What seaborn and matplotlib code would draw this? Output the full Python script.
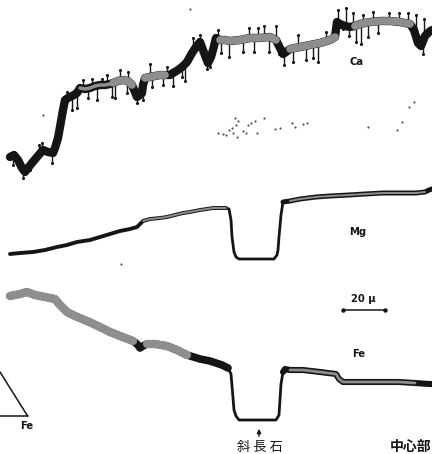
import matplotlib
matplotlib.use("Agg")
import matplotlib.pyplot as plt
import seaborn as sns
import pandas as pd
import numpy as np

sns.set_theme(style="white")
plt.rcParams['font.family'] = ['DejaVu Sans', 'Noto Sans CJK JP']

# ---------------- data (x = position, y = signal in plot units) -------------
ca_x = [10, 14, 18, 22, 25, 28, 32, 37, 43, 48, 53, 55, 58, 60, 63, 65, 68, 70, 74, 77, 80, 85, 90, 95,
        100, 105, 110, 113, 118, 123, 128, 132, 135, 137, 140, 142, 143, 145, 150, 155, 160, 165, 170,
        173, 178, 182, 187, 192, 196, 200, 203, 206, 208, 211, 213, 216, 220, 225, 230, 240, 250, 260,
        270, 276, 280, 283, 286, 290, 300, 310, 320, 330, 335, 337, 340, 345, 350, 355, 360, 365, 370,
        380, 390, 400, 410, 414, 418, 421, 425, 429, 432]
ca_y = [157, 155, 160, 168, 172, 168, 163, 157, 150, 152, 153, 148, 138, 127, 110, 100, 98, 97, 95, 93,
        88, 89, 88, 86, 85, 85, 84, 83, 81, 80, 81, 85, 92, 97, 95, 93, 85, 78, 77, 76, 75, 75, 75,
        73, 70, 67, 62, 53, 47, 42, 50, 58, 63, 57, 50, 38, 40, 40, 41, 40, 38, 38,
        37, 40, 48, 54, 52, 49, 47, 45, 43, 40, 37, 22, 24, 26, 27, 26, 24, 23, 22,
        21, 21, 22, 24, 30, 43, 46, 36, 32, 30]

# noise spikes on the Ca trace: position and tip
ca_spike_x = [13, 23, 30, 39, 42, 52, 67, 72, 77, 83, 88, 92, 97, 102, 107, 112, 115, 120, 127, 128,
              137, 143, 150, 152, 163, 167, 173, 182, 185, 193, 200, 207, 210,
              218, 221, 229, 243, 249, 254, 258, 264, 269, 276, 279, 284, 293, 298, 306, 313, 318,
              326, 338, 343, 346, 349, 353, 356, 361, 363, 368, 373, 378, 389, 399, 408, 416, 423, 424]
ca_spike_y = [165, 178, 170, 145, 143, 163, 92, 110, 108, 80, 98, 79, 100, 79, 75, 97, 98, 70, 93, 72,
              103, 100, 64, 87, 85, 67, 86, 77, 81, 38, 35, 69, 67,
              30, 53, 57, 52, 28, 52, 28, 26, 52, 26, 54, 65, 62, 35, 60, 58, 62,
              32, 10, 29, 8, 36, 13, 42, 44, 15, 37, 12, 33, 13, 13, 13, 15, 54, 19]

mg_x = [10, 20, 33, 45, 57, 67, 77, 90, 100, 110, 120, 130, 137, 143, 150, 160, 167, 175, 183, 190,
        200, 207, 213, 220, 226, 229, 231, 232, 234, 236, 239, 250, 260, 270, 274, 277, 278, 279,
        281, 283, 290, 300, 316, 330, 349, 365, 383, 400, 416, 425, 429, 432]
mg_y = [254, 253, 252, 250, 247, 245, 242, 240, 237, 234, 231, 229, 227, 221, 219, 218, 217, 215, 213, 212,
        210, 209, 208, 208, 208, 209, 220, 237, 252, 257, 259, 259, 259, 259, 259, 255, 250, 237,
        215, 202, 201, 199, 197, 196, 195, 194, 193, 193, 193, 192, 190, 189]

fe_x = [10, 20, 27, 35, 45, 55, 60, 67, 75, 87, 100, 110, 120, 133, 137, 140, 143, 147, 155, 167, 177,
        187, 200, 210, 216, 222, 228, 231, 234, 236, 239, 250, 260, 270, 276, 279, 281, 283, 285,
        290, 303, 320, 336, 339, 343, 346, 366, 383, 399, 415, 429, 432]
fe_y = [296, 294, 292, 295, 297, 299, 305, 312, 316, 321, 327, 332, 336, 341, 344, 348, 346, 344, 344, 346, 350,
        355, 359, 361, 363, 365, 368, 374, 410, 416, 420, 420, 420, 420, 420, 415, 384, 372, 369,
        370, 370, 372, 374, 379, 382, 382, 382, 382, 382, 383, 384, 384]

# faint specks between the Ca and Mg traces
speck_x = [218, 223, 226, 229, 232, 233, 235, 236, 237, 238, 243, 246, 248, 251, 255, 257, 264, 275,
           280, 292, 295, 303, 307, 368, 397, 402, 409, 414, 43, 121, 190]
speck_y = [133, 134, 135, 130, 128, 133, 118, 125, 137, 121, 131, 133, 125, 123, 121, 133, 118, 129,
           128, 123, 127, 124, 123, 127, 130, 122, 107, 102, 115, 264, 9]

# partial ternary diagram (bottom-left corner)
tri_x = [0, 27, 28, 0]
tri_y = [372, 415, 416, 416]

# 20 µ scale bar
bar_x = [343, 385]
bar_y = [310, 310]

labels = ["Ca", "Mg", "20 μ", "Fe", "Fe", "斜 長 石", "中心部"]

BLACK = "#151515"
GRAY = "#8e8e8e"

W, H = 432, 454
fig = plt.figure(figsize=(W / 100, H / 100), dpi=100)
ax = fig.add_axes([0, 0, 1, 1])
ax.set_xlim(0, W)
ax.set_ylim(H, 0)
ax.axis("off")


def trace(xs, ys, lw, color, lo=-1, hi=10_000, z=2):
    df = pd.DataFrame({"x": xs, "y": ys})
    df = df[(df.x >= lo) & (df.x <= hi)]
    sns.lineplot(data=df, x="x", y="y", ax=ax, color=color, lw=lw, sort=False,
                 estimator=None, zorder=z, solid_capstyle="round", solid_joinstyle="round")


# ---- Ca ----
base = np.interp(ca_spike_x, ca_x, ca_y)
ax.vlines(ca_spike_x, base, ca_spike_y, color=BLACK, lw=1.0, zorder=1)
sns.scatterplot(x=ca_spike_x, y=ca_spike_y, ax=ax, s=5, color=BLACK, linewidth=0, zorder=1)
trace(ca_x, ca_y, 6.0, BLACK)
for lo, hi in [(80, 112)]:
    trace(ca_x, ca_y, 2.5, GRAY, lo, hi, 3)
for lo, hi in [(113, 132), (145, 165), (220, 276), (290, 335), (355, 410)]:
    trace(ca_x, ca_y, 5.5, GRAY, lo, hi, 3)

# ---- Mg ----
trace(mg_x, mg_y, 2.8, BLACK, -1, 228)
trace(mg_x, mg_y, 2.0, BLACK, 226, 285)
trace(mg_x, mg_y, 3.6, BLACK, 283, 432)
for lo, hi in [(140, 226), (290, 425)]:
    trace(mg_x, mg_y, 1.4, GRAY, lo, hi, 3)

# ---- Fe ----
trace(fe_x, fe_y, 2.0, BLACK, 225, 286)
trace(fe_x, fe_y, 5.5, BLACK, -1, 230)
trace(fe_x, fe_y, 4.4, BLACK, 283, 432)
for lo, hi in [(10, 135), (147, 187)]:
    trace(fe_x, fe_y, 6.0, GRAY, lo, hi, 3)
trace(fe_x, fe_y, 2.0, GRAY, 290, 425, 3)

# specks
sns.scatterplot(x=speck_x, y=speck_y, ax=ax, s=2.5, color="#555555", linewidth=0, zorder=2)

# ternary corner
ax.plot(tri_x, tri_y, color=BLACK, lw=1.1)

# scale bar
ax.plot(bar_x, bar_y, color=BLACK, lw=1.1)
ax.plot(bar_x, bar_y, "o", color=BLACK, ms=2.2)

# labels
lab = dict(fontsize=7.2, fontweight="bold", color=BLACK, ha="center", va="center")
ax.text(357, 62, labels[0], **lab)
ax.text(358, 232, labels[1], **lab)
ax.text(363, 299, labels[2], **lab)
ax.text(359, 354, labels[3], **lab)
ax.text(27, 426, labels[4], **lab)

ax.annotate("", xy=(259, 426), xytext=(259, 439),
            arrowprops=dict(arrowstyle="-|>", color=BLACK, lw=1.0, mutation_scale=6))
ax.text(260, 448, labels[5], fontsize=9.5, family=["Noto Sans CJK JP"], color=BLACK,
        ha="center", va="center")
ax.text(390, 447, labels[6], fontsize=10, family=["Noto Sans CJK JP"], fontweight="bold",
        color=BLACK, ha="left", va="center")

fig.savefig("out.png", dpi=100)
